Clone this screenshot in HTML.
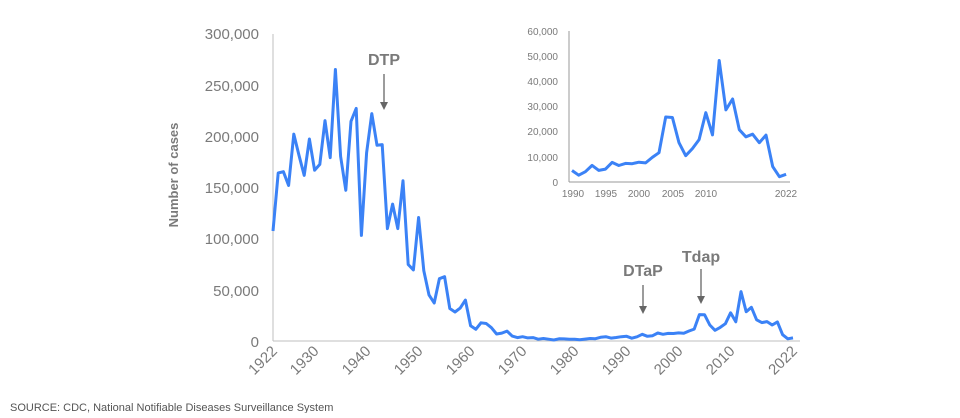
<!DOCTYPE html>
<html><head><meta charset="utf-8"><style>
body{margin:0;background:#fff;}
svg text{font-family:"Liberation Sans",sans-serif;}
</style></head><body>
<svg id="s" width="960" height="413" xmlns="http://www.w3.org/2000/svg">
<line x1="273" y1="34" x2="273" y2="341" stroke="#bfbfbf" stroke-width="1"/>
<line x1="273" y1="341" x2="800" y2="341" stroke="#bfbfbf" stroke-width="1"/>
<g font-size="15" fill="#7a7a7a" text-anchor="end">
<text x="259" y="39">300,000</text><text x="259" y="91">250,000</text><text x="259" y="142">200,000</text>
<text x="259" y="193">150,000</text><text x="259" y="244">100,000</text><text x="259" y="296">50,000</text><text x="259" y="347">0</text>
</g>
<text transform="translate(178,175) rotate(-90)" font-size="13" font-weight="bold" fill="#7a7a7a" text-anchor="middle">Number of cases</text>
<g id="xl" font-size="15" fill="#7a7a7a" text-anchor="end"></g>
<polyline id="main" fill="none" stroke="#3b82f6" stroke-width="3" stroke-linejoin="round"/>
<g font-weight="bold" font-size="16" fill="#7a7a7a" text-anchor="middle">
<text x="384" y="65">DTP</text><text x="643" y="276">DTaP</text><text x="701" y="262">Tdap</text>
</g>
<g stroke="#666" stroke-width="1.3">
<line x1="384" y1="74" x2="384" y2="104"/><line x1="643" y1="285" x2="643" y2="308"/><line x1="701" y1="269" x2="701" y2="298"/>
</g>
<g fill="#666"><path d="M380,102 L388,102 L384,110Z"/><path d="M639,306 L647,306 L643,314Z"/><path d="M697,296 L705,296 L701,304Z"/></g>
<line x1="569" y1="31" x2="569" y2="182" stroke="#999" stroke-width="1"/>
<line x1="569" y1="182" x2="790" y2="182" stroke="#999" stroke-width="1"/>
<g font-size="10" fill="#7a7a7a" text-anchor="end">
<text x="558" y="35">60,000</text><text x="558" y="60">50,000</text><text x="558" y="85">40,000</text>
<text x="558" y="110">30,000</text><text x="558" y="135">20,000</text><text x="558" y="161">10,000</text><text x="558" y="186">0</text>
</g>
<g font-size="10" fill="#7a7a7a" text-anchor="middle">
<text x="573" y="197">1990</text><text x="606" y="197">1995</text><text x="639" y="197">2000</text>
<text x="673" y="197">2005</text><text x="706" y="197">2010</text><text x="786" y="197">2022</text>
</g>
<polyline id="ins" fill="none" stroke="#3b82f6" stroke-width="3" stroke-linejoin="round"/>
<text x="10" y="411" font-size="11" fill="#555">SOURCE:  CDC, National Notifiable Diseases Surveillance System</text>
</svg>
<script>
var d=[107473,164191,165418,152003,202210,181411,161799,197371,166914,172559,215343,179135,265269,180518,147237,214652,227319,103188,183866,222202,191383,191890,109873,133792,109860,156517,74715,69479,120718,68687,45030,37129,60886,62786,31732,28295,32148,40005,14809,11468,17749,17135,13005,6799,7717,9718,4810,3285,4249,3036,3287,1759,2402,1738,1010,2177,2063,1623,1730,1248,1895,2463,2276,3589,4195,2823,3450,4157];
var r=[4570,2719,4083,6586,4617,5137,7796,6564,7405,7288,7867,7580,9771,11647,25827,25616,15632,10454,13278,16858,27550,18719,48277,28639,32971,20762,17972,18975,15609,18617,6124,2116,3044];
var all=d.concat(r),p=[];
for(var i=0;i<all.length;i++)p.push((273+i*5.2).toFixed(1)+","+(341-all[i]*307/300000).toFixed(1));
document.getElementById('main').setAttribute('points',p.join(' '));
var q=[];for(var i=0;i<r.length;i++)q.push((572+i*6.69).toFixed(1)+","+(182-r[i]*151/60000).toFixed(1));
document.getElementById('ins').setAttribute('points',q.join(' '));
var ys=[1922,1930,1940,1950,1960,1970,1980,1990,2000,2010,2022],g=document.getElementById('xl'),h='';
ys.forEach(function(y){var x=273+(y-1922)*5.2+5;h+='<text transform="translate('+x+',352) rotate(-45)">'+y+'</text>';});
g.innerHTML=h;
</script>
</body></html>
